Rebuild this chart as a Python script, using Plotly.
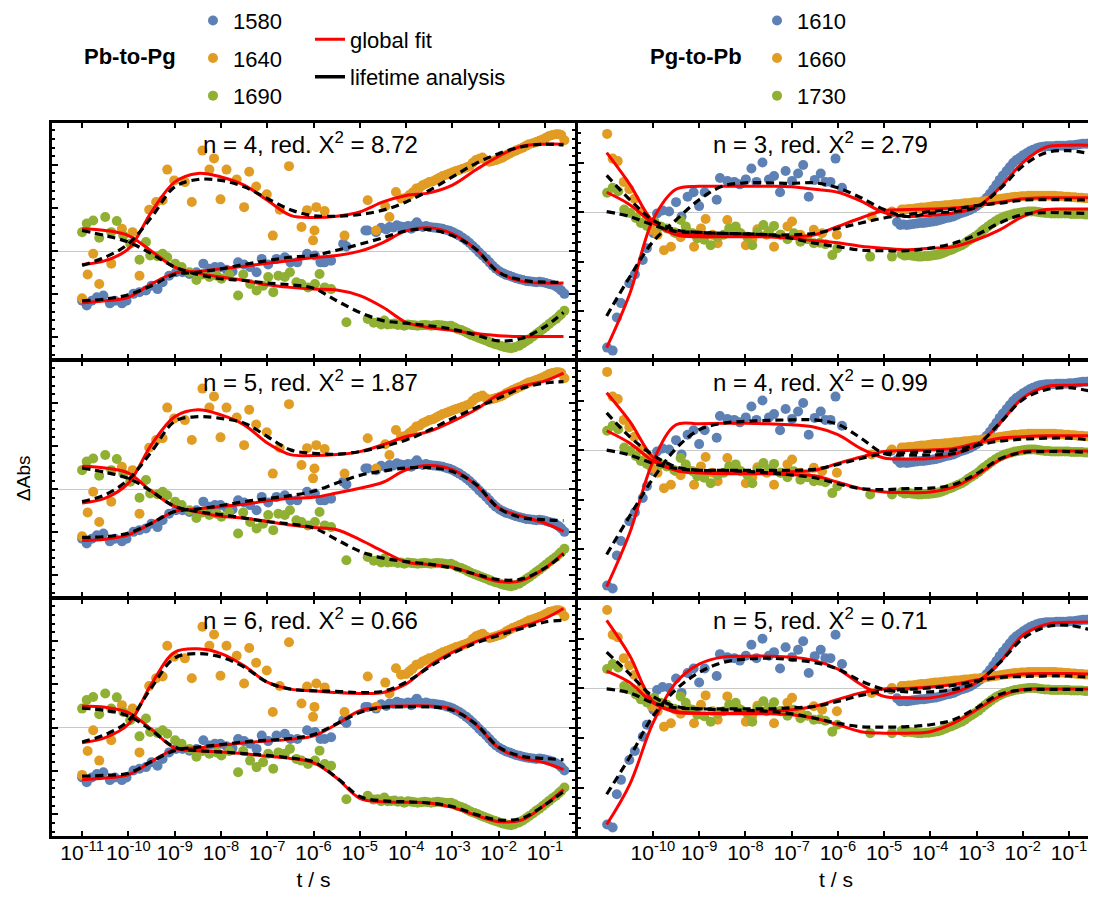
import plotly.graph_objects as go

# ---------------- data: log10(t / s) and ΔAbs (arbitrary units) ----------------
# Pb-to-Pg measured traces (same data in all three left panels)
L1580_logt = [-11.0,-10.9,-10.79,-10.68,-10.54,-10.4,-10.29,-10.14,-10.04,-9.89,-9.76,-9.62,-9.5,-9.37,-9.26,-9.12,-8.97,-8.83,-8.68,-8.53,-8.38,-8.25,-8.13,-8.01,-7.88,-7.75,-7.63,-7.5,-7.37,-7.23,-7.12,-6.98,-6.8,-6.62,-6.5,-6.35,-6.14,-5.97,-5.85,-5.76,-5.62,-5.36,-5.29,-4.88,-4.83,-4.65,-4.54,-4.43,-4.36,-4.27,-4.2,-4.12,-4.04,-3.96,-3.89,-3.83,-3.77,-3.7,-3.64,-3.57,-3.5,-3.42,-3.35,-3.28,-3.21,-3.13,-3.06,-2.99,-2.92,-2.85,-2.78,-2.7,-2.63,-2.56,-2.49,-2.42,-2.35,-2.27,-2.2,-2.13,-2.06,-1.98,-1.91,-1.84,-1.77,-1.7,-1.63,-1.55,-1.48,-1.41,-1.34,-1.26,-1.19,-1.12,-1.05,-0.98,-0.91,-0.84,-0.76,-0.7,-0.65,-0.58]
L1580_y    = [-1.15,-1.26,-1.15,-1.07,-1.03,-1.21,-1.15,-1.21,-1.15,-0.99,-0.95,-0.91,-0.80,-0.88,-0.72,-0.57,-0.49,-0.49,-0.53,-0.49,-0.29,-0.41,-0.37,-0.37,-0.43,-0.47,-0.26,-0.31,-0.37,-0.49,-0.18,-0.31,-0.18,-0.14,-0.26,-0.26,-0.06,-0.10,-0.26,-0.26,-0.22,0.17,0.11,0.48,0.48,0.44,0.54,0.50,0.56,0.55,0.60,0.57,0.56,0.58,0.52,0.60,0.67,0.58,0.56,0.58,0.56,0.55,0.54,0.53,0.52,0.49,0.47,0.44,0.40,0.36,0.31,0.25,0.19,0.12,0.05,-0.03,-0.10,-0.18,-0.26,-0.34,-0.41,-0.47,-0.51,-0.55,-0.57,-0.60,-0.63,-0.65,-0.67,-0.69,-0.70,-0.71,-0.72,-0.71,-0.72,-0.74,-0.76,-0.78,-0.82,-0.86,-0.91,-0.99]

L1640_logt = [-11.0,-10.88,-10.76,-10.63,-10.37,-10.14,-9.91,-9.76,-9.55,-9.4,-9.26,-9.16,-9.01,-8.78,-8.63,-8.4,-8.25,-8.15,-8.01,-7.88,-7.66,-7.5,-7.39,-7.24,-7.01,-6.88,-6.73,-6.53,-6.26,-6.14,-6.01,-5.98,-5.94,-5.76,-5.33,-4.83,-4.65,-4.45,-4.36,-4.22,-4.11,-4.0,-3.93,-3.86,-3.78,-3.71,-3.64,-3.57,-3.5,-3.42,-3.35,-3.28,-3.21,-3.13,-3.06,-2.99,-2.92,-2.85,-2.78,-2.7,-2.63,-2.56,-2.49,-2.42,-2.35,-2.27,-2.2,-2.13,-2.06,-1.98,-1.91,-1.84,-1.77,-1.7,-1.63,-1.55,-1.48,-1.41,-1.34,-1.26,-1.19,-1.12,-1.05,-0.98,-0.91,-0.84,-0.76,-0.7,-0.65,-0.58]
L1640_y    = [-1.09,-0.54,-0.06,-0.76,-0.29,0.52,0.44,-0.57,0.96,1.14,1.18,1.89,1.64,1.60,1.14,2.33,1.89,2.15,1.20,1.89,1.66,1.02,1.84,1.50,1.32,0.36,0.96,1.97,0.56,0.95,0.25,0.48,1.02,0.93,0.36,1.18,0.48,1.04,0.79,1.37,1.22,1.24,1.30,1.36,1.45,1.47,1.53,1.56,1.60,1.62,1.66,1.70,1.74,1.77,1.80,1.83,1.86,1.88,1.91,1.94,1.97,2.05,2.11,2.14,2.17,2.10,2.07,2.09,2.11,2.14,2.17,2.22,2.26,2.30,2.33,2.37,2.40,2.44,2.48,2.50,2.53,2.56,2.59,2.63,2.67,2.69,2.71,2.71,2.69,2.57]

L1690_logt = [-11.0,-10.9,-10.76,-10.63,-10.5,-10.37,-10.25,-10.11,-9.96,-9.76,-9.62,-9.53,-9.37,-9.26,-9.16,-8.99,-8.85,-8.68,-8.53,-8.4,-8.25,-8.09,-7.99,-7.82,-7.63,-7.52,-7.37,-7.23,-7.09,-6.98,-6.87,-6.76,-6.62,-6.51,-6.37,-6.26,-6.12,-5.97,-5.87,-5.76,-5.62,-5.29,-4.83,-4.7,-4.61,-4.54,-4.47,-4.4,-4.32,-4.25,-4.18,-4.11,-4.04,-3.96,-3.89,-3.82,-3.75,-3.67,-3.6,-3.53,-3.46,-3.39,-3.32,-3.24,-3.17,-3.1,-3.03,-2.95,-2.88,-2.81,-2.74,-2.67,-2.6,-2.52,-2.45,-2.38,-2.31,-2.24,-2.17,-2.09,-2.02,-1.95,-1.88,-1.8,-1.73,-1.66,-1.56,-1.48,-1.41,-1.34,-1.26,-1.19,-1.12,-1.05,-0.98,-0.91,-0.84,-0.76,-0.7,-0.65,-0.58]
L1690_y    = [0.44,0.64,0.71,0.31,0.79,0.44,0.70,0.36,0.17,-0.20,0.21,-0.10,-0.12,-0.06,-0.14,-0.29,-0.37,-0.49,-0.67,-0.54,-0.60,-0.57,-0.64,-0.54,-1.03,-0.54,-0.76,-0.91,-0.80,-0.60,-0.95,-0.57,-0.60,-0.49,-0.72,-0.76,-0.84,-0.76,-0.53,-0.84,-0.88,-1.65,-1.57,-1.66,-1.65,-1.70,-1.61,-1.70,-1.69,-1.68,-1.71,-1.70,-1.73,-1.70,-1.71,-1.72,-1.73,-1.72,-1.71,-1.72,-1.73,-1.72,-1.71,-1.72,-1.73,-1.74,-1.73,-1.77,-1.81,-1.83,-1.86,-1.90,-1.94,-1.97,-2.00,-2.03,-2.06,-2.09,-2.12,-2.15,-2.17,-2.20,-2.22,-2.24,-2.25,-2.23,-2.19,-2.14,-2.09,-2.04,-1.98,-1.92,-1.87,-1.81,-1.75,-1.69,-1.63,-1.57,-1.51,-1.46,-1.38]

# Pg-to-Pb measured traces (same data in all three right panels)
R1610_logt = [-10.99,-10.87,-10.78,-10.69,-10.51,-10.39,-10.22,-10.13,-9.99,-9.91,-9.79,-9.65,-9.5,-9.38,-9.25,-9.12,-9.0,-8.88,-8.62,-8.55,-8.39,-8.24,-8.12,-7.99,-7.87,-7.76,-7.63,-7.49,-7.38,-7.25,-7.13,-6.99,-6.86,-6.75,-6.63,-6.5,-6.37,-6.27,-6.16,-6.05,-5.91,-4.85,-4.72,-4.65,-4.58,-4.51,-4.44,-4.37,-4.29,-4.22,-4.15,-4.08,-4.01,-3.94,-3.87,-3.79,-3.72,-3.65,-3.58,-3.5,-3.43,-3.36,-3.29,-3.22,-3.14,-3.07,-3.0,-2.93,-2.86,-2.78,-2.71,-2.64,-2.57,-2.5,-2.43,-2.35,-2.28,-2.21,-2.14,-2.06,-1.99,-1.92,-1.85,-1.78,-1.7,-1.63,-1.56,-1.49,-1.42,-1.35,-1.27,-1.2,-1.13,-1.06,-0.99,-0.91,-0.84,-0.77,-0.7,-0.63,-0.56,-0.5]
R1610_y    = [-2.74,-2.80,-2.13,-1.84,-1.44,-1.26,-0.97,-0.73,-0.43,-0.03,0.03,0.01,0.20,-0.09,0.31,0.40,0.12,0.40,0.25,0.69,0.63,0.61,0.56,0.66,0.88,0.61,1.00,0.66,0.73,0.40,0.83,0.63,0.78,0.95,0.31,0.65,0.78,0.61,0.61,1.08,0.49,-0.02,-0.20,-0.26,-0.25,-0.26,-0.25,-0.24,-0.23,-0.22,-0.22,-0.21,-0.20,-0.19,-0.18,-0.16,-0.14,-0.12,-0.11,-0.09,-0.06,-0.03,-0.01,0.01,0.04,0.08,0.12,0.17,0.22,0.29,0.37,0.46,0.55,0.65,0.74,0.83,0.91,0.99,1.05,1.10,1.15,1.19,1.23,1.26,1.29,1.31,1.32,1.33,1.33,1.33,1.34,1.34,1.34,1.34,1.35,1.35,1.36,1.37,1.38,1.38,1.39,1.40]

R1660_logt = [-10.99,-10.87,-10.76,-10.63,-10.51,-10.4,-10.26,-10.15,-10.03,-9.9,-9.76,-9.61,-9.5,-9.4,-9.25,-9.11,-8.96,-8.86,-8.71,-8.6,-8.39,-8.17,-7.99,-7.85,-7.74,-7.54,-7.38,-7.24,-7.09,-6.99,-6.81,-6.52,-6.34,-6.02,-5.27,-4.83,-4.62,-4.55,-4.47,-4.4,-4.33,-4.26,-4.19,-4.11,-4.04,-3.97,-3.9,-3.83,-3.76,-3.68,-3.61,-3.54,-3.47,-3.4,-3.32,-3.25,-3.18,-3.11,-3.04,-2.96,-2.89,-2.82,-2.75,-2.68,-2.6,-2.53,-2.46,-2.39,-2.32,-2.24,-2.17,-2.1,-2.03,-1.96,-1.88,-1.81,-1.74,-1.67,-1.6,-1.52,-1.45,-1.38,-1.31,-1.24,-1.17,-1.09,-1.02,-0.95,-0.88,-0.81,-0.73,-0.66,-0.59,-0.52]
R1660_y    = [1.58,1.08,1.03,0.61,0.46,0.27,0.01,-0.16,-0.36,-0.46,-0.77,-0.70,-0.43,-0.51,-0.39,-0.70,-0.33,-0.14,-0.46,-0.63,-0.16,-0.39,-0.67,-0.55,-0.35,-0.46,-0.70,-0.46,-0.29,-0.19,-0.46,-0.36,-0.43,-0.46,-0.09,0.01,0.05,0.05,0.06,0.06,0.07,0.08,0.09,0.09,0.10,0.11,0.12,0.12,0.13,0.14,0.14,0.15,0.16,0.16,0.17,0.18,0.18,0.19,0.20,0.20,0.21,0.22,0.23,0.24,0.25,0.26,0.27,0.28,0.29,0.30,0.31,0.31,0.32,0.32,0.33,0.33,0.33,0.33,0.33,0.33,0.33,0.33,0.33,0.32,0.32,0.31,0.31,0.30,0.30,0.29,0.29,0.28,0.28,0.27]

R1730_logt = [-10.99,-10.87,-10.75,-10.62,-10.49,-10.37,-10.26,-10.13,-9.97,-9.83,-9.7,-9.54,-9.4,-9.29,-9.14,-9.04,-8.89,-8.75,-8.6,-8.47,-8.35,-8.21,-8.1,-7.96,-7.85,-7.74,-7.61,-7.49,-7.38,-7.24,-7.09,-6.95,-6.81,-6.66,-6.52,-6.39,-6.27,-6.12,-6.01,-5.3,-4.83,-4.62,-4.55,-4.47,-4.4,-4.33,-4.26,-4.19,-4.11,-4.04,-3.97,-3.9,-3.83,-3.76,-3.68,-3.61,-3.54,-3.47,-3.4,-3.32,-3.25,-3.18,-3.11,-3.04,-2.96,-2.89,-2.82,-2.75,-2.68,-2.6,-2.53,-2.46,-2.39,-2.32,-2.24,-2.17,-2.1,-2.03,-1.96,-1.88,-1.81,-1.74,-1.67,-1.6,-1.52,-1.45,-1.38,-1.31,-1.24,-1.17,-1.09,-1.02,-0.95,-0.88,-0.81,-0.73,-0.66,-0.59,-0.52]
R1730_y    = [0.39,0.49,0.42,0.05,-0.02,-0.12,-0.22,-0.28,-0.19,-0.29,-0.33,-0.41,-0.16,-0.29,-0.43,-0.53,-0.56,-0.67,-0.51,-0.46,-0.33,-0.29,-0.43,-0.50,-0.67,-0.41,-0.26,-0.39,-0.28,-0.46,-0.55,-0.43,-0.60,-0.55,-0.63,-0.62,-0.65,-0.87,-0.73,-0.90,-0.90,-0.85,-0.88,-0.87,-0.88,-0.89,-0.90,-0.90,-0.89,-0.89,-0.88,-0.87,-0.86,-0.84,-0.81,-0.78,-0.76,-0.73,-0.70,-0.67,-0.63,-0.58,-0.54,-0.50,-0.45,-0.39,-0.34,-0.29,-0.24,-0.19,-0.15,-0.12,-0.09,-0.07,-0.05,-0.03,-0.02,-0.01,0.00,0.01,0.01,0.01,0.00,-0.01,-0.02,-0.02,-0.03,-0.03,-0.03,-0.03,-0.03,-0.03,-0.04,-0.04,-0.04,-0.04,-0.05,-0.05,-0.05]

# ---------------- fitted curves (sampled every half decade) ----------------
FIT_L_logt = [-11,-10.5,-10,-9.5,-9,-8.5,-8,-7.5,-7,-6.5,-6,-5.5,-5,-4.5,-4,-3.5,-3,-2.5,-2,-1.5,-1,-0.6]
FIT_R_logt = [-11,-10.5,-10,-9.5,-9,-8.5,-8,-7.5,-7,-6.5,-6,-5.5,-5,-4.5,-4,-3.5,-3,-2.5,-2,-1.5,-1,-0.5]

# Pb-to-Pg, n = 4
gf_n4_1580 = [-1.20,-1.15,-1.07,-0.76,-0.51,-0.47,-0.41,-0.35,-0.28,-0.22,-0.15,-0.10,0.00,0.20,0.47,0.54,0.40,0.05,-0.49,-0.70,-0.74,-0.74]
la_n4_1580 = [-1.15,-1.11,-1.01,-0.80,-0.54,-0.49,-0.41,-0.31,-0.22,-0.14,-0.10,0.02,0.16,0.31,0.47,0.50,0.36,0.05,-0.49,-0.67,-0.72,-0.72]
gf_n4_1640 = [-0.31,-0.22,0.05,0.91,1.60,1.80,1.72,1.53,1.18,0.83,0.78,0.81,0.91,1.14,1.29,1.35,1.53,1.88,2.20,2.43,2.48,2.48]
la_n4_1640 = [-0.33,-0.14,0.17,0.79,1.49,1.66,1.64,1.49,1.22,0.96,0.82,0.81,0.85,0.95,1.14,1.41,1.72,2.03,2.26,2.42,2.48,2.46]
gf_n4_1690 = [0.52,0.48,0.36,0.00,-0.37,-0.51,-0.60,-0.68,-0.78,-0.84,-0.88,-0.90,-1.03,-1.30,-1.65,-1.77,-1.84,-1.91,-1.96,-1.98,-1.98,-1.98]
la_n4_1690 = [0.48,0.36,0.21,-0.06,-0.37,-0.54,-0.64,-0.68,-0.74,-0.78,-0.86,-1.15,-1.42,-1.61,-1.67,-1.73,-1.81,-1.94,-2.08,-2.02,-1.75,-1.42]
# Pb-to-Pg, n = 5
gf_n5_1580 = [-1.19,-1.16,-1.06,-0.79,-0.52,-0.46,-0.40,-0.35,-0.27,-0.21,-0.19,-0.09,0.02,0.16,0.45,0.55,0.45,0.10,-0.44,-0.63,-0.79,-0.98]
la_n5_1580 = [-1.12,-1.10,-1.02,-0.79,-0.52,-0.46,-0.38,-0.29,-0.22,-0.15,-0.05,0.14,0.32,0.42,0.49,0.50,0.41,0.12,-0.44,-0.66,-0.71,-0.73]
gf_n5_1640 = [-0.32,-0.21,0.14,1.03,1.68,1.84,1.72,1.49,1.07,0.80,0.78,0.80,0.87,1.03,1.22,1.34,1.57,1.84,2.19,2.38,2.51,2.69]
la_n5_1640 = [-0.29,-0.13,0.22,0.87,1.57,1.68,1.64,1.53,1.22,0.91,0.83,0.81,0.87,0.99,1.14,1.37,1.64,1.88,2.11,2.34,2.46,2.49]
gf_n5_1690 = [0.53,0.49,0.37,-0.05,-0.40,-0.53,-0.63,-0.67,-0.75,-0.83,-0.89,-0.94,-1.17,-1.44,-1.69,-1.75,-1.81,-1.98,-2.14,-2.12,-1.83,-1.48]
la_n5_1690 = [0.49,0.39,0.25,-0.05,-0.40,-0.52,-0.59,-0.67,-0.75,-0.81,-0.90,-1.17,-1.44,-1.60,-1.68,-1.74,-1.83,-1.97,-2.10,-2.08,-1.83,-1.51]
# Pb-to-Pg, n = 6
gf_n6_1580 = [-1.20,-1.16,-1.09,-0.78,-0.50,-0.47,-0.40,-0.35,-0.31,-0.27,-0.19,0.08,0.39,0.48,0.50,0.50,0.43,0.08,-0.47,-0.70,-0.81,-0.97]
la_n6_1580 = [-1.12,-1.10,-1.05,-0.78,-0.53,-0.45,-0.39,-0.33,-0.29,-0.25,-0.16,0.09,0.35,0.47,0.48,0.48,0.40,0.09,-0.45,-0.66,-0.71,-0.74]
gf_n6_1640 = [-0.35,-0.23,0.08,1.01,1.74,1.82,1.71,1.43,1.05,0.89,0.85,0.81,0.79,0.81,1.01,1.43,1.74,1.98,2.17,2.33,2.52,2.75]
la_n6_1640 = [-0.33,-0.16,0.16,0.93,1.61,1.71,1.63,1.40,1.05,0.89,0.85,0.84,0.81,0.84,1.05,1.40,1.71,1.95,2.13,2.29,2.44,2.48]
gf_n6_1690 = [0.50,0.47,0.35,-0.04,-0.47,-0.53,-0.56,-0.60,-0.66,-0.71,-0.81,-1.16,-1.63,-1.71,-1.72,-1.74,-1.84,-2.02,-2.17,-2.13,-1.78,-1.43]
la_n6_1690 = [0.45,0.40,0.27,-0.06,-0.45,-0.53,-0.56,-0.60,-0.64,-0.70,-0.79,-1.15,-1.59,-1.69,-1.71,-1.74,-1.82,-2.00,-2.13,-2.09,-1.78,-1.47]

# Pg-to-Pb, n = 3
gf_n3_1610 = [-2.74,-1.65,-0.16,0.46,0.52,0.52,0.52,0.52,0.51,0.46,0.40,0.22,-0.01,-0.09,-0.07,-0.02,0.10,0.49,1.00,1.31,1.35,1.35]
la_n3_1610 = [-2.10,-1.31,-0.60,-0.16,0.25,0.52,0.59,0.59,0.58,0.59,0.49,0.29,0.05,-0.09,-0.02,0.01,0.10,0.46,0.93,1.20,1.24,1.17]
gf_n3_1660 = [1.20,0.56,-0.19,-0.46,-0.50,-0.50,-0.50,-0.50,-0.50,-0.46,-0.29,-0.12,0.03,0.05,0.06,0.08,0.13,0.20,0.27,0.29,0.29,0.29]
la_n3_1660 = [0.74,0.25,-0.16,-0.36,-0.41,-0.43,-0.44,-0.46,-0.46,-0.43,-0.33,-0.22,-0.12,-0.05,0.01,0.06,0.13,0.18,0.24,0.25,0.25,0.24]
gf_n3_1730 = [0.40,0.15,-0.22,-0.43,-0.46,-0.46,-0.48,-0.50,-0.53,-0.58,-0.62,-0.69,-0.73,-0.76,-0.73,-0.70,-0.56,-0.36,-0.09,0.05,0.06,0.06]
la_n3_1730 = [0.01,-0.09,-0.26,-0.39,-0.41,-0.43,-0.44,-0.46,-0.53,-0.63,-0.70,-0.77,-0.78,-0.78,-0.73,-0.63,-0.46,-0.22,-0.05,-0.01,-0.02,-0.03]
# Pg-to-Pb, n = 4
gf_n4_1610 = [-2.76,-1.67,-0.24,0.51,0.53,0.54,0.54,0.53,0.51,0.46,0.31,0.03,-0.16,-0.18,-0.17,-0.09,0.10,0.54,1.05,1.28,1.31,1.33]
la_n4_1610 = [-2.11,-1.33,-0.58,0.03,0.41,0.54,0.58,0.60,0.61,0.61,0.52,0.24,-0.07,-0.10,-0.10,-0.07,0.10,0.54,1.02,1.22,1.26,1.18]
gf_n4_1660 = [1.16,0.58,-0.14,-0.41,-0.46,-0.46,-0.46,-0.46,-0.44,-0.41,-0.27,-0.14,-0.03,-0.01,0.00,0.03,0.14,0.24,0.27,0.29,0.29,0.29]
la_n4_1660 = [0.75,0.27,-0.10,-0.34,-0.41,-0.41,-0.41,-0.41,-0.41,-0.39,-0.29,-0.17,-0.07,-0.05,-0.03,0.00,0.10,0.18,0.22,0.24,0.24,0.20]
gf_n4_1730 = [0.39,0.14,-0.22,-0.41,-0.46,-0.48,-0.48,-0.48,-0.50,-0.52,-0.65,-0.78,-0.85,-0.86,-0.85,-0.75,-0.51,-0.20,-0.03,-0.02,-0.02,-0.02]
la_n4_1730 = [0.00,-0.10,-0.27,-0.37,-0.41,-0.41,-0.43,-0.46,-0.50,-0.56,-0.68,-0.78,-0.80,-0.78,-0.77,-0.70,-0.48,-0.18,-0.05,-0.03,-0.03,-0.05]
# Pg-to-Pb, n = 5
gf_n5_1610 = [-2.74,-1.93,-0.70,0.12,0.49,0.63,0.65,0.65,0.63,0.56,0.39,0.08,-0.16,-0.19,-0.19,-0.09,0.12,0.52,1.07,1.29,1.33,1.34]
la_n5_1610 = [-2.13,-1.38,-0.56,-0.02,0.32,0.52,0.59,0.61,0.58,0.52,0.39,0.15,-0.02,-0.07,-0.07,-0.02,0.12,0.52,1.00,1.24,1.27,1.17]
gf_n5_1660 = [1.37,0.66,-0.26,-0.46,-0.50,-0.50,-0.48,-0.46,-0.43,-0.36,-0.22,-0.09,-0.01,0.00,0.03,0.08,0.17,0.24,0.29,0.30,0.30,0.29]
la_n5_1660 = [0.73,0.29,-0.16,-0.36,-0.41,-0.41,-0.41,-0.41,-0.39,-0.36,-0.26,-0.14,-0.05,-0.02,0.01,0.06,0.15,0.22,0.24,0.25,0.25,0.22]
gf_n5_1730 = [0.35,0.12,-0.29,-0.48,-0.50,-0.51,-0.51,-0.51,-0.53,-0.60,-0.73,-0.87,-0.90,-0.90,-0.87,-0.70,-0.43,-0.16,-0.02,-0.01,-0.01,-0.01]
la_n5_1730 = [-0.01,-0.09,-0.29,-0.39,-0.41,-0.43,-0.44,-0.46,-0.51,-0.60,-0.70,-0.77,-0.78,-0.77,-0.73,-0.63,-0.39,-0.12,-0.03,-0.02,-0.02,-0.03]

PANEL_LABELS = ["n = 4, red. X<sup>2</sup> = 8.72", "n = 3, red. X<sup>2</sup> = 2.79",
                "n = 5, red. X<sup>2</sup> = 1.87", "n = 4, red. X<sup>2</sup> = 0.99",
                "n = 6, red. X<sup>2</sup> = 0.66", "n = 5, red. X<sup>2</sup> = 0.71"]
TICK_EXP_L = list(range(-11, 0))
TICK_EXP_R = list(range(-10, 0))

# ---------------- styling ----------------
FONT = "Liberation Sans, Arial, sans-serif"
COLORS = {"1580": "#5E81B5", "1640": "#E19C24", "1690": "#8FB032",
          "1610": "#5E81B5", "1660": "#E19C24", "1730": "#8FB032"}
RED = "#FF0000"
MS = 10

def t(exps):
    return [10.0 ** e for e in exps]

left_data = [("1580", L1580_logt, L1580_y), ("1640", L1640_logt, L1640_y), ("1690", L1690_logt, L1690_y)]
right_data = [("1610", R1610_logt, R1610_y), ("1660", R1660_logt, R1660_y), ("1730", R1730_logt, R1730_y)]

panels = [
    (1, "L", {"1580": (gf_n4_1580, la_n4_1580), "1640": (gf_n4_1640, la_n4_1640), "1690": (gf_n4_1690, la_n4_1690)}),
    (2, "R", {"1610": (gf_n3_1610, la_n3_1610), "1660": (gf_n3_1660, la_n3_1660), "1730": (gf_n3_1730, la_n3_1730)}),
    (3, "L", {"1580": (gf_n5_1580, la_n5_1580), "1640": (gf_n5_1640, la_n5_1640), "1690": (gf_n5_1690, la_n5_1690)}),
    (4, "R", {"1610": (gf_n4_1610, la_n4_1610), "1660": (gf_n4_1660, la_n4_1660), "1730": (gf_n4_1730, la_n4_1730)}),
    (5, "L", {"1580": (gf_n6_1580, la_n6_1580), "1640": (gf_n6_1640, la_n6_1640), "1690": (gf_n6_1690, la_n6_1690)}),
    (6, "R", {"1610": (gf_n5_1610, la_n5_1610), "1660": (gf_n5_1660, la_n5_1660), "1730": (gf_n5_1730, la_n5_1730)}),
]

fig = go.Figure()

for k, col, fits in panels:
    xa = "x" if k == 1 else f"x{k}"
    ya = "y" if k == 1 else f"y{k}"
    data = left_data if col == "L" else right_data
    grid = FIT_L_logt if col == "L" else FIT_R_logt
    first = k in (1, 2)
    for name, lx, ly in data:
        fig.add_trace(go.Scatter(
            x=t(lx), y=ly, mode="markers", name=name, xaxis=xa, yaxis=ya,
            marker=dict(size=MS, color=COLORS[name], line=dict(width=0)),
            showlegend=first, legend="legend" if col == "L" else "legend3",
            legendgroup=name))
    for name, _, _ in data:
        gf, _la = fits[name]
        fig.add_trace(go.Scatter(
            x=t(grid), y=gf, mode="lines", xaxis=xa, yaxis=ya, showlegend=False,
            line=dict(color=RED, width=3, shape="spline", smoothing=1.0)))
    for name, _, _ in data:
        _gf, la = fits[name]
        fig.add_trace(go.Scatter(
            x=t(grid), y=la, mode="lines", xaxis=xa, yaxis=ya, showlegend=False,
            line=dict(color="black", width=3.2, dash="8px,5px", shape="spline", smoothing=1.0)))

# legend-only keys for the two fit types
fig.add_trace(go.Scatter(x=[None], y=[None], mode="lines", name="global fit",
                         line=dict(color=RED, width=3), legend="legend2", legendgroup="gf"))
fig.add_trace(go.Scatter(x=[None], y=[None], mode="lines", name="lifetime analysis",
                         line=dict(color="black", width=3.5), legend="legend2", legendgroup="la"))

# ---------------- axes ----------------
XDOM = {"L": [0.0, 0.502], "R": [0.5048, 1.0]}
YDOM = {1: [0.669, 1.0], 2: [0.3352, 0.6662], 3: [0.0, 0.3324]}
XRANGE = {"L": [-11.65, -0.35], "R": [-11.62, -0.46]}
YRANGE = {"L": [-2.5, 2.97], "R": [-2.97, 1.8]}

layout = {}
for k, col, _ in panels:
    row = (k + 1) // 2
    exps = TICK_EXP_L if col == "L" else TICK_EXP_R
    xkey = "xaxis" if k == 1 else f"xaxis{k}"
    ykey = "yaxis" if k == 1 else f"yaxis{k}"
    layout[xkey] = dict(
        type="log", domain=XDOM[col], range=XRANGE[col], anchor="y" if k == 1 else f"y{k}",
        showline=True, linewidth=3, linecolor="black", mirror="ticks",
        ticks="inside", ticklen=5, tickwidth=2, tickcolor="black",
        tickvals=t(exps), ticktext=[f"10<sup>{e}</sup>" for e in exps],
        showticklabels=(row == 3), showgrid=False, zeroline=False,
        ticklabelstandoff=-4,
        tickfont=dict(size=21, family=FONT, color="black"),
        title=dict(text="t / s" if row == 3 else "", font=dict(size=21, family=FONT, color="black"), standoff=10),
    )
    layout[ykey] = dict(
        domain=YDOM[row], range=YRANGE[col], anchor="x" if k == 1 else f"x{k}",
        showline=True, linewidth=3, linecolor="black", mirror="ticks",
        ticks="inside", ticklen=6, tickwidth=2, tickcolor="black",
        tick0=0, dtick=1, showticklabels=False, showgrid=False,
        zeroline=True, zerolinecolor="#c8c8c8", zerolinewidth=1,
        minor=dict(dtick=0.2, ticks="inside", ticklen=3, tickwidth=2, tickcolor="black"),
    )

annotations = []
for i, (k, col, _) in enumerate(panels):
    xd = "x domain" if k == 1 else f"x{k} domain"
    yd = "y domain" if k == 1 else f"y{k} domain"
    annotations.append(dict(text=PANEL_LABELS[i], xref=xd, yref=yd,
                            x=0.4936 if col == "L" else 0.469, y=1.0, xanchor="center", yanchor="top",
                            yshift=-3, showarrow=False, font=dict(size=24, family=FONT, color="black")))
annotations += [
    dict(text="<b>Pb-to-Pg</b>", xref="paper", yref="paper", x=0.0749, y=1.0926,
         xanchor="center", yanchor="middle", showarrow=False, font=dict(size=22, family=FONT, color="black")),
    dict(text="<b>Pg-to-Pb</b>", xref="paper", yref="paper", x=0.618, y=1.0926,
         xanchor="center", yanchor="middle", showarrow=False, font=dict(size=22, family=FONT, color="black")),
    dict(text="ΔAbs", xref="paper", yref="paper", x=-0.028, y=0.502, textangle=-90,
         xanchor="center", yanchor="middle", showarrow=False, font=dict(size=19, family=FONT, color="black")),
]

leg_common = dict(font=dict(size=22, family=FONT, color="black"), bgcolor="rgba(0,0,0,0)",
                  xanchor="left", yanchor="top", tracegroupgap=6)
# page has an 8 px body margin, so the figure is 8 px smaller and shifted accordingly;
# margins are fixed so the legends above the plot area do not push the panels down
fig.update_layout(
    width=1088, height=893,
    margin=dict(l=44, r=2, t=115, b=65, autoexpand=False),
    paper_bgcolor="white", plot_bgcolor="white",
    font=dict(family=FONT, color="black"),
    annotations=annotations,
    legend=dict(x=0.1353, y=1.173, **leg_common),
    legend2=dict(x=0.2476, y=1.1466, **leg_common),
    legend3=dict(x=0.6766, y=1.173, **leg_common),
    **layout,
)

fig.write_html("out.html")
